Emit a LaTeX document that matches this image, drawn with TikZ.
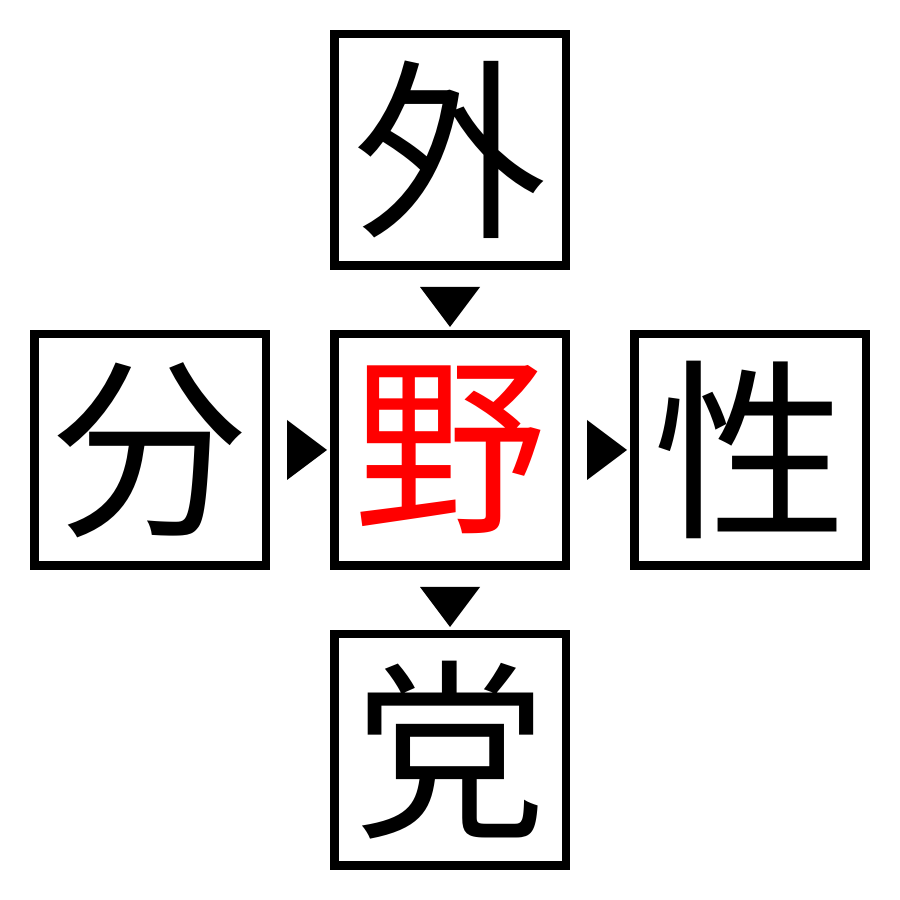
\documentclass[tikz,border=0pt]{standalone}
\usepackage{fontspec}
\newfontfamily\cjk{Noto Sans CJK JP}
\begin{document}
\begin{tikzpicture}[x=1cm,y=1cm,
  charbox/.style={draw=black,line width=0.085cm,minimum size=2.315cm,inner sep=0pt,font=\cjk\fontsize{55}{55}\selectfont},
  tri/.style={fill=black}]
\useasboundingbox (0,0) rectangle (9,9);
\node[charbox] (top) at (4.5,7.5) {外};
\node[charbox] (left) at (1.5,4.5) {分};
\node[charbox,text=red] (mid) at (4.5,4.5) {野};
\node[charbox] (right) at (7.5,4.5) {性};
\node[charbox] (bot) at (4.5,1.5) {党};
\fill[tri] ([shift={(-0.3,-0.17)}]top.south) -- ++(0.6,0) -- ++(-0.3,-0.4) -- cycle;
\fill[tri] ([shift={(-0.3,-0.17)}]mid.south) -- ++(0.6,0) -- ++(-0.3,-0.4) -- cycle;
\fill[tri] ([shift={(0.17,0.3)}]left.east) -- ++(0,-0.6) -- ++(0.4,0.3) -- cycle;
\fill[tri] ([shift={(0.17,0.3)}]mid.east) -- ++(0,-0.6) -- ++(0.4,0.3) -- cycle;
\end{tikzpicture}
\end{document}
